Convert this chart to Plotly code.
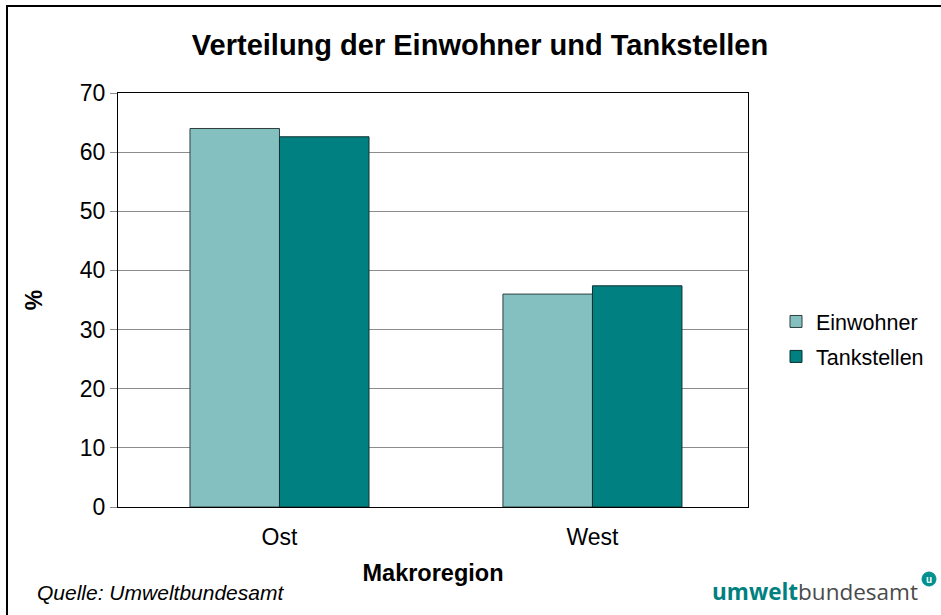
import plotly.graph_objects as go

categories = ["Ost", "West"]
einwohner = [64.0, 36.0]
tankstellen = [62.6, 37.4]
y_ticks = [0, 10, 20, 30, 40, 50, 60, 70]

W, H = 941, 615
L, R, T, B = 118, 748, 93, 507

def px(x):
    return (x - L) / (R - L)

def py(y):
    return (B - y) / (B - T)

fig = go.Figure()
fig.add_trace(go.Bar(x=categories, y=einwohner, name="Einwohner", legendgroup="a",
                     marker=dict(color="#84C0C0", line=dict(color="#2F3F3F", width=1))))
fig.add_trace(go.Bar(x=categories, y=tankstellen, name="Tankstellen", legendgroup="b",
                     marker=dict(color="#008080", line=dict(color="#0F3030", width=1))))

font = "Arial, Liberation Sans, sans-serif"
fig.update_layout(
    width=W, height=H,
    margin=dict(l=L, r=W - R, t=T, b=H - B, autoexpand=False),
    paper_bgcolor="white", plot_bgcolor="white",
    barmode="group", bargap=0.428, bargroupgap=0,
    font=dict(family=font, size=23, color="black"),
    title=dict(text="<b>Verteilung der Einwohner und Tankstellen</b>", x=480 / W, xanchor="center",
               y=1 - 45 / H, yanchor="middle", font=dict(size=29, family=font)),
    showlegend=True,
    legend=dict(x=px(776), y=py(339), xanchor="left", yanchor="middle",
                font=dict(size=21.5, family=font), tracegroupgap=4,
                bgcolor="rgba(0,0,0,0)"),
    xaxis=dict(range=[-0.516, 1.497], showline=True, linecolor="black", linewidth=1, mirror=True,
               ticks="", tickfont=dict(size=23), ticklabelstandoff=9,
               title=dict(text="<b>Makroregion</b>", font=dict(size=23.5), standoff=15)),
    yaxis=dict(range=[0, 70], tickvals=y_ticks, showline=True, linecolor="black", linewidth=1,
               mirror=True, showgrid=True, gridcolor="#8C8C8C", gridwidth=1,
               ticks="outside", ticklen=7, tickcolor="#8C8C8C", tickfont=dict(size=23),
               zeroline=False,
               title=dict(text="<b>%</b>", font=dict(size=23), standoff=30)),
)

# outer frame
fig.add_shape(type="rect", xref="paper", yref="paper",
              x0=px(7), x1=px(960), y0=py(630), y1=py(6),
              line=dict(color="black", width=2), fillcolor="rgba(0,0,0,0)", layer="below")

fig.add_annotation(text="<i>Quelle: Umweltbundesamt</i>", xref="paper", yref="paper",
                   x=px(35), y=py(592), xanchor="left", yanchor="middle", showarrow=False,
                   font=dict(size=21, family=font, color="black"))

fig.add_annotation(text="<b><span style='color:#00807F'>umwelt</span></b><span style='color:#4A4A4A'>bundesamt</span>",
                   xref="paper", yref="paper", x=px(920), y=py(591), xanchor="right", yanchor="middle",
                   showarrow=False, font=dict(size=22.5, family="Open Sans, DejaVu Sans, sans-serif"))

fig.add_shape(type="circle", xref="paper", yref="paper",
              x0=px(922), x1=px(936), y0=py(586), y1=py(572),
              fillcolor="#009090", line=dict(color="#009090", width=1))
fig.add_annotation(text="<b>u</b>", xref="paper", yref="paper", x=px(929), y=py(579),
                   xanchor="center", yanchor="middle", showarrow=False,
                   font=dict(size=10, color="white", family=font))

fig.write_html("out.html", config={"displayModeBar": False},
               post_script="document.body.style.margin='0';document.body.style.overflow='hidden';")
